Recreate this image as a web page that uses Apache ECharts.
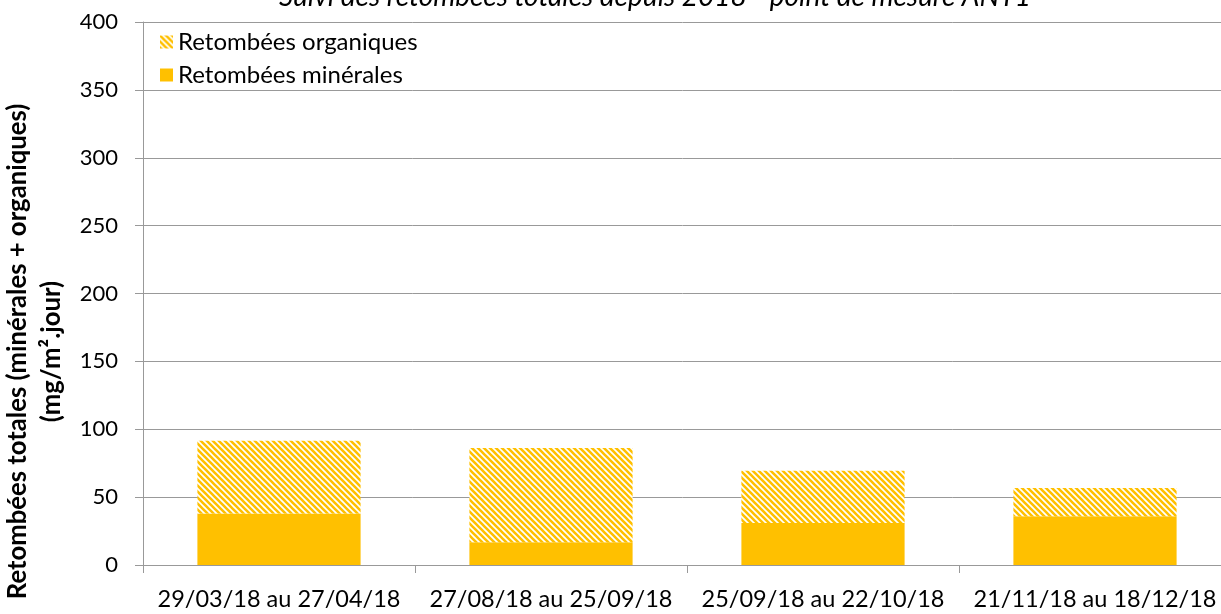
<!DOCTYPE html>
<html>
<head>
<meta charset="utf-8">
<script src="https://cdn.jsdelivr.net/npm/echarts@6/dist/echarts.min.js"></script>
<style>
  html, body { margin: 0; padding: 0; background: #fff; }
  #chart { width: 1221px; height: 614px; }
</style>
</head>
<body>
<div id="chart"></div>
<script>
var periodes = ['29/03/18 au 27/04/18', '27/08/18 au 25/09/18', '25/09/18 au 22/10/18', '21/11/18 au 18/12/18'];
var minerales = [38, 16.8, 31, 35.9];
var organiques = [53.5, 69.4, 38.5, 20.9];

var jaune = '#FFC000';

// hachures diagonales type Excel
function hachures() {
  var c = document.createElement('canvas');
  c.width = 6;
  c.height = 6;
  var ctx = c.getContext('2d');
  ctx.fillStyle = '#fff';
  ctx.fillRect(0, 0, 6, 6);
  ctx.strokeStyle = jaune;
  ctx.lineWidth = 2.6;
  ctx.beginPath();
  ctx.moveTo(-3, -3); ctx.lineTo(9, 9);
  ctx.moveTo(-3, 3); ctx.lineTo(3, 9);
  ctx.moveTo(3, -3); ctx.lineTo(9, 3);
  ctx.stroke();
  return c;
}

var chart = echarts.init(document.getElementById('chart'));
var fonte = 'Lato, "Open Sans", sans-serif';

var option = {
  animation: false,
  title: {
    text: 'Suivi des retombées totales depuis 2018 - point de mesure ANT1',
    left: 650,
    textAlign: 'center',
    top: -22,
    textStyle: { fontFamily: fonte, fontSize: 28, fontStyle: 'italic', fontWeight: 'normal', color: '#000' }
  },
  legend: {
    left: 155,
    top: 25,
    orient: 'vertical',
    itemWidth: 13,
    itemHeight: 13,
    itemGap: 9,
    icon: 'rect',
    textStyle: { fontFamily: fonte, fontSize: 24, color: '#000' },
    data: ['Retombées organiques', 'Retombées minérales']
  },
  grid: { left: 143, right: -10, top: 22, bottom: 49, outerBoundsMode: 'none' },
  xAxis: {
    type: 'category',
    data: periodes,
    axisLine: { lineStyle: { color: '#999' } },
    axisTick: { show: true, length: 8, lineStyle: { color: '#999' } },
    axisLabel: { interval: 0, fontFamily: fonte, fontSize: 23.5, color: '#000', margin: 22 }
  },
  yAxis: {
    type: 'value',
    min: 0,
    max: 400,
    interval: 50,
    name: 'Retombées totales (minérales + organiques)\n(mg/m².jour)',
    nameLocation: 'middle',
    nameGap: 72,
    nameTextStyle: { fontFamily: fonte, fontSize: 25.7, fontWeight: 'bold', color: '#000', lineHeight: 34, padding: [0, 116, 0, 0] },
    axisLine: { show: true, lineStyle: { color: '#999' } },
    axisTick: { show: true, inside: false, length: 8, lineStyle: { color: '#999' } },
    axisLabel: { fontFamily: fonte, fontSize: 22, color: '#000', margin: 25 },
    splitLine: { lineStyle: { color: '#999' } }
  },
  series: [
    {
      name: 'Retombées minérales',
      type: 'bar',
      stack: 'total',
      barWidth: '60%',
      data: minerales,
      itemStyle: { color: jaune }
    },
    {
      name: 'Retombées organiques',
      type: 'bar',
      stack: 'total',
      barWidth: '60%',
      data: organiques,
      itemStyle: { color: { image: hachures(), repeat: 'repeat' } }
    }
  ]
};
chart.setOption(option);
</script>
</body>
</html>
